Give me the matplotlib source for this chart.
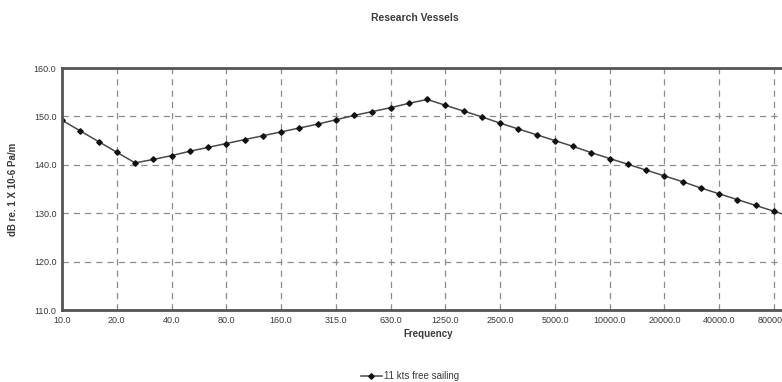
#!/usr/bin/env python3
"""
Research vessel source level spectrum (third-octave bands).
"""
import matplotlib
matplotlib.use("Agg")
import matplotlib.pyplot as plt
from matplotlib.lines import Line2D

# Data: third-octave band centre frequencies (Hz) and levels (dB)
FREQUENCIES = [10, 12.5, 16, 20, 25, 31.5, 40, 50, 63, 80, 100, 125, 160, 200,
               250, 315, 400, 500, 630, 800, 1000, 1250, 1600, 2000, 2500,
               3150, 4000, 5000, 6300, 8000, 10000, 12500, 16000, 20000,
               25000, 31500, 40000, 50000, 63000, 80000, 100000]
LEVELS = [149.2, 147.0, 144.8, 142.6, 140.4, 141.1, 141.9, 142.8, 143.6, 144.4,
          145.2, 146.0, 146.8, 147.6, 148.4, 149.3, 150.2, 151.0, 151.8, 152.7,
          153.5, 152.3, 151.1, 149.9, 148.6, 147.4, 146.2, 145.0, 143.8, 142.5,
          141.3, 140.1, 138.9, 137.7, 136.5, 135.2, 134.0, 132.8, 131.6, 130.4,
          129.2]
TICK_LABELS = ["10.0", "20.0", "40.0", "80.0", "160.0", "315.0", "630.0",
               "1250.0", "2500.0", "5000.0", "10000.0", "20000.0", "40000.0",
               "80000.0"]
Y_TICKS = [110, 120, 130, 140, 150, 160]
SERIES_NAME = "11 kts free sailing"

W, H = 782, 382
DPI = 100
TEXT = '#3a3a3a'
FRAME = '#555555'

plt.rcParams['font.family'] = ['Liberation Sans', 'DejaVu Sans']

fig = plt.figure(figsize=(W / DPI, H / DPI), dpi=DPI)
# axes box in pixels: left 62, right ~795 (runs off the image), top 68, bottom 310
left, right, top, bottom = 62, 795, 68, 310
ax = fig.add_axes([left / W, 1 - bottom / H, (right - left) / W, (bottom - top) / H])

idx = list(range(len(FREQUENCIES)))
ax.plot(idx, LEVELS, color='#4a4a4a', linewidth=1.1, marker='D',
        markersize=2.8, markerfacecolor='#111111', markeredgecolor='#111111',
        clip_on=True)

ax.set_xlim(0, 40.15)
ax.set_ylim(110, 160)
ax.set_xticks(idx[::3][:len(TICK_LABELS)])
ax.set_xticklabels(TICK_LABELS)
ax.set_yticks(Y_TICKS)
ax.set_yticklabels([f"{v:.1f}" for v in Y_TICKS])
ax.tick_params(labelsize=6.5, colors=TEXT, length=0, pad=4)

ax.grid(True, color='#8c8c8c', linestyle=(0, (5, 4)), linewidth=0.9)
for side in ['left', 'top', 'bottom', 'right']:
    ax.spines[side].set_color(FRAME)
    ax.spines[side].set_linewidth(2)

ax.set_xlabel("Frequency", fontsize=7, fontweight='bold', color=TEXT, labelpad=3)
fig.text(13 / W, 1 - 189 / H, "dB re. 1 X 10-6 Pa/m", rotation=90,
         ha='center', va='center', fontsize=7, fontweight='bold', color=TEXT)
fig.text(415 / W, 1 - 18 / H, "Research Vessels", ha='center', va='center',
         fontsize=7.5, fontweight='bold', color=TEXT)

handle = Line2D([], [], color='#4a4a4a', linewidth=1.1, marker='D',
                markersize=2.8, markerfacecolor='#111111', markeredgecolor='#111111')
fig.legend(handles=[handle], labels=[SERIES_NAME], loc='center',
           bbox_to_anchor=(410 / W, 1 - 376 / H), frameon=False,
           fontsize=7, handlelength=2.2, handletextpad=0.2, labelcolor=TEXT)

fig.savefig("out.png", dpi=DPI, facecolor='white')
